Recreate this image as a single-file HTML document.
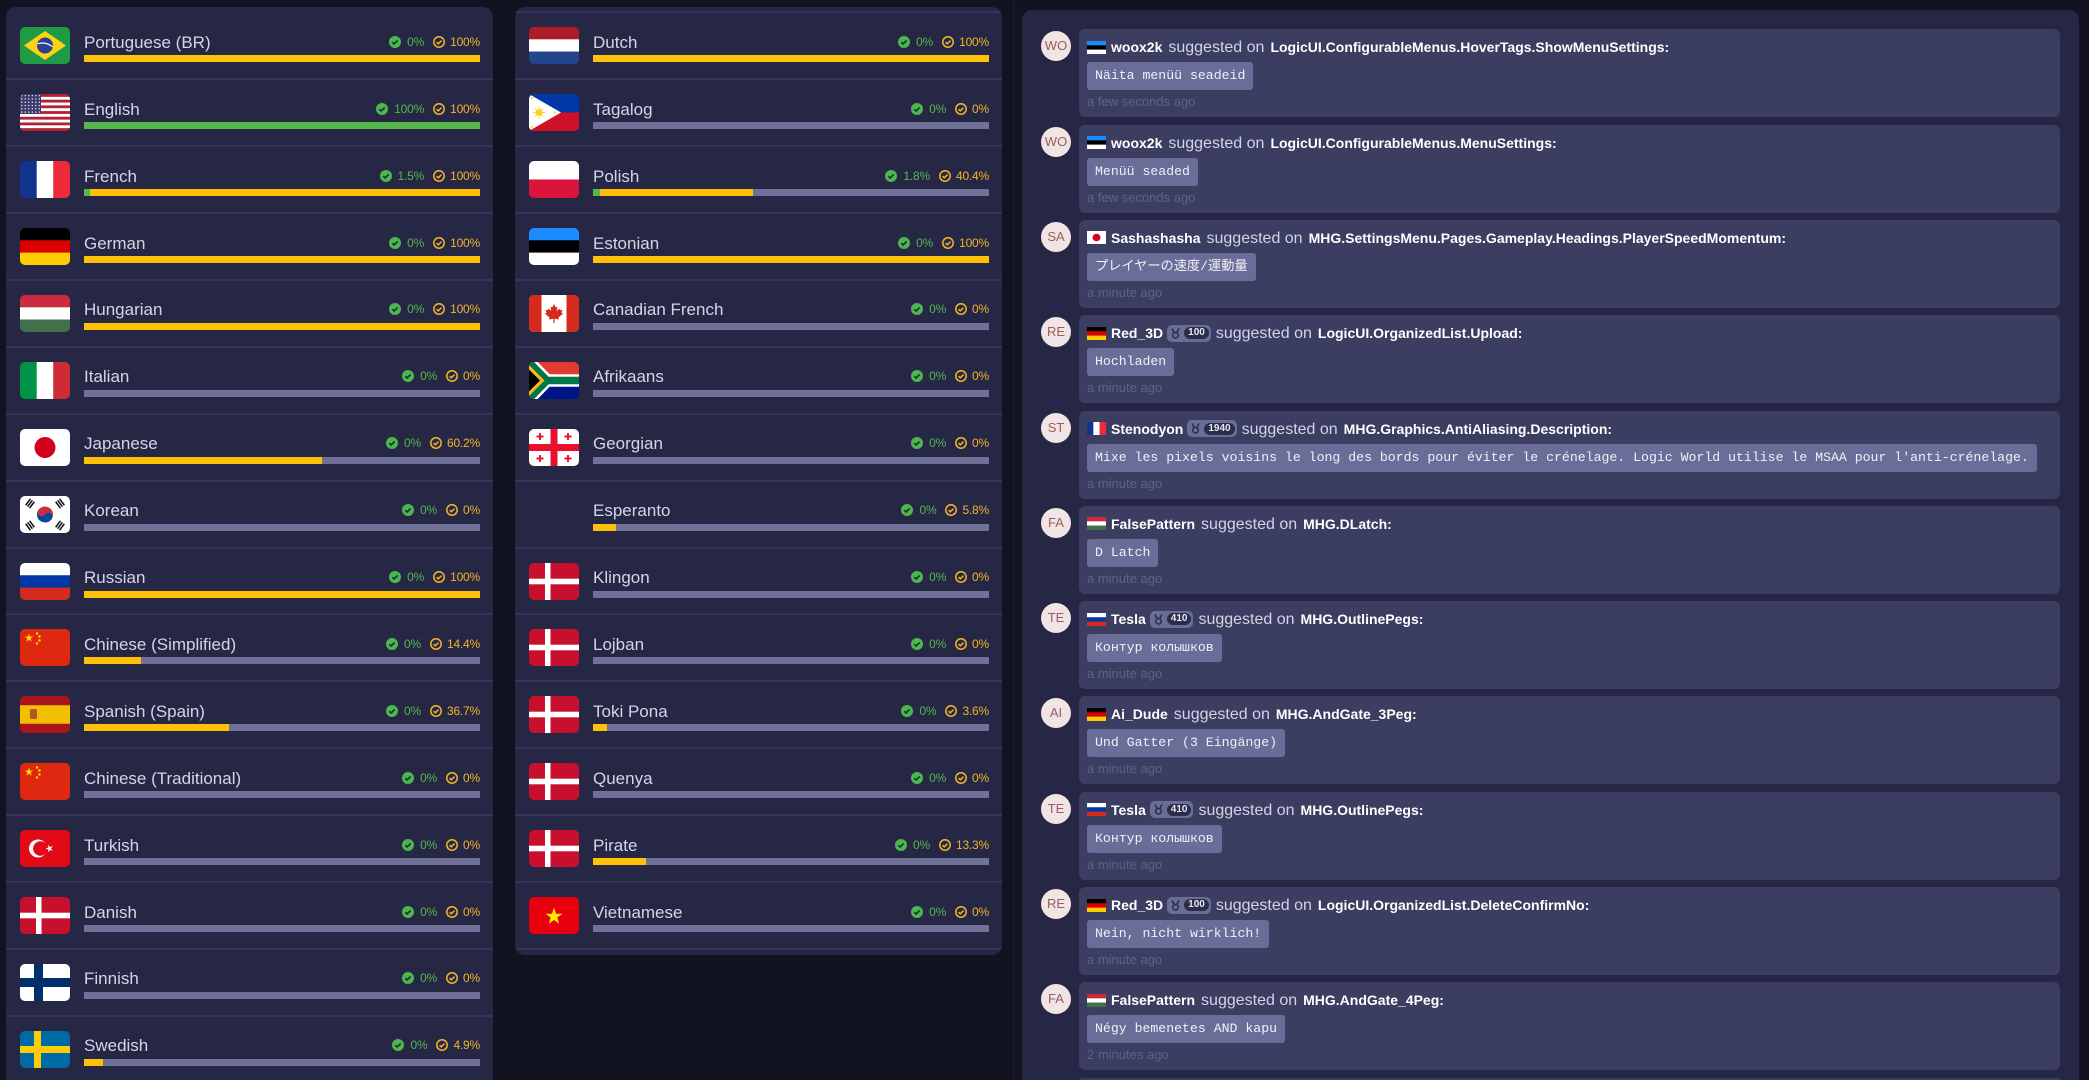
<!DOCTYPE html>
<html style="overflow:hidden;height:1080px"><head><meta charset="utf-8">
<style>
*{box-sizing:border-box}
html,body{margin:0;padding:0;width:2089px;height:1080px;overflow:hidden;background:#121320}
#root{position:relative;width:2089px;height:1080px;overflow:hidden;background:#121320;font-family:"Liberation Sans","Noto Sans CJK JP",sans-serif}
.p{position:absolute;background:#262744;border-radius:10px;overflow:hidden}
#p1{left:6px;top:7px;width:487px;height:1073px;border-bottom-left-radius:0;border-bottom-right-radius:0}
#p2{left:515px;top:7px;width:487px;height:948px}
#p3{left:1022px;top:10px;width:1057px;height:1070px;border-bottom-left-radius:0;border-bottom-right-radius:0}
.vl{position:absolute;left:1013px;top:0;width:2px;height:1080px;background:#181a2b}
.r{position:absolute;left:0;width:100%;height:67px}
.r::before{content:"";position:absolute;left:0;right:0;top:-1px;height:2px;background:#33365a}
.r.nf::before{display:none}
.sp{position:absolute;left:0;right:0;height:2px;background:#33365a}
.fl{position:absolute;left:14px;top:15px;width:50px;height:37px;border-radius:5px;overflow:hidden}
.fl svg{display:block;width:50px;height:37px}
.n{position:absolute;left:78px;top:21.6px;font-size:17px;line-height:17px;color:#d5d5e6;white-space:nowrap}
.st{position:absolute;right:13px;top:22px;height:15px;display:flex;align-items:center;font-size:12px;letter-spacing:-0.2px;white-space:nowrap}
.ic{width:12px;height:12px;margin-right:6px;flex:none}
.ic2{margin-left:9px;margin-right:5px}
.gt{color:#55b74f}
.yt{color:#f2b42a}
.b{position:absolute;left:78px;right:13px;top:43px;height:7px;background:#6f7199;overflow:hidden}
.b i{position:absolute;left:0;top:0;bottom:0;display:block}
.b .y{background:#ffc107}
.b .g{background:#56b84a}
.it{position:absolute;left:1041px;width:1019px;height:88px;overflow:hidden}
.cd{position:absolute;left:38px;top:0;width:981px;height:88px;background:#3b3d61;border-radius:6px}
.av{position:absolute;left:0;top:2px;width:30px;height:30px;border-radius:50%;background:#f0e4e4;color:#9a5d5a;font-size:13px;line-height:30px;text-align:center}
.hd{position:absolute;left:46px;top:8px;height:20px;display:flex;align-items:baseline;white-space:nowrap;line-height:20px}
.cf{width:19px;height:13px;margin-right:5px;flex:none;display:block;align-self:center}
.u{font-weight:bold;font-size:14px;color:#fff}
.s{font-size:16px;color:#d4d4e6;margin:0 6px}
.k{font-weight:bold;font-size:14px;color:#fff}
.bd{margin-left:4px;height:17px;background:#6b6d99;border-radius:5px;display:flex;align-items:center;padding:0 2px 0 3px;align-self:center}
.bd svg{width:11px;height:11px;display:block}
.pl{background:#2b2d4b;color:#e8e8f2;font-size:10px;font-weight:bold;border-radius:6px;height:12px;line-height:12px;padding:0 4px;margin-left:3px}
.bd+.s{margin-left:5px}
.co{position:absolute;left:46px;top:33px;height:28px;line-height:28px;padding:0 8px;background:#6b6d99;border-radius:3px;font-family:"Liberation Mono","Noto Sans CJK JP",monospace;font-size:13.2px;color:#f0f0f8;white-space:nowrap}
.t{position:absolute;left:46px;top:66px;font-size:13px;line-height:14px;color:#5f6189;white-space:nowrap}
</style></head><body>
<div id="root">
<svg width="0" height="0" style="position:absolute">
<defs>
<pattern id="stars" width="3.5" height="3.3" patternUnits="userSpaceOnUse"><circle cx="1.75" cy="1.65" r="0.65" fill="#fff"/></pattern>
</defs>
<symbol id="ig" viewBox="0 0 12 12"><circle cx="6" cy="6" r="6" fill="#4cb84c"/><path d="M3.3 6.2l1.8 1.8 3.6-3.6" stroke="#262744" stroke-width="1.6" fill="none"/></symbol>
<symbol id="iy" viewBox="0 0 12 12"><circle cx="6" cy="6" r="5.2" stroke="#f2b42a" stroke-width="1.5" fill="none"/><path d="M3.6 6.1l1.7 1.7 3.2-3.2" stroke="#f2b42a" stroke-width="1.5" fill="none"/></symbol>
<symbol id="md" viewBox="0 0 11 11"><path d="M2 0.5l2.5 4.5M9 0.5L6.5 5" stroke="#2b2d4b" stroke-width="1.6" fill="none"/><circle cx="5.5" cy="7.3" r="2.8" fill="none" stroke="#2b2d4b" stroke-width="1.5"/></symbol>
<symbol id="f-br" viewBox="0 0 50 37" preserveAspectRatio="none"><rect width="50" height="37" fill="#1f9a45"/><path d="M25 4L46 18.5 25 33 4 18.5z" fill="#fcd116"/><circle cx="25" cy="18.5" r="8" fill="#2c3f93"/><path d="M17.4 16.8q8-2.5 15.3 3" stroke="#fff" stroke-width="1.2" fill="none"/></symbol>
<symbol id="f-us" viewBox="0 0 50 37" preserveAspectRatio="none"><rect width="50" height="37" fill="#fff"/><g fill="#b22234"><rect y="0" width="50" height="2.85"/><rect y="5.69" width="50" height="2.85"/><rect y="11.38" width="50" height="2.85"/><rect y="17.08" width="50" height="2.85"/><rect y="22.77" width="50" height="2.85"/><rect y="28.46" width="50" height="2.85"/><rect y="34.15" width="50" height="2.85"/></g><rect width="21" height="19.9" fill="#3c3b6e"/><rect width="21" height="19.9" fill="url(#stars)"/></symbol>
<symbol id="f-fr" viewBox="0 0 50 37" preserveAspectRatio="none"><rect width="17" height="37" fill="#12348f"/><rect x="16.7" width="16.7" height="37" fill="#fff"/><rect x="33.3" width="16.7" height="37" fill="#ef2b3b"/></symbol>
<symbol id="f-de" viewBox="0 0 50 37" preserveAspectRatio="none"><rect width="50" height="12.4" fill="#000"/><rect y="12.3" width="50" height="12.4" fill="#dd0000"/><rect y="24.6" width="50" height="12.4" fill="#ffce00"/></symbol>
<symbol id="f-hu" viewBox="0 0 50 37" preserveAspectRatio="none"><rect width="50" height="12.4" fill="#cd2a3e"/><rect y="12.3" width="50" height="12.4" fill="#fff"/><rect y="24.6" width="50" height="12.4" fill="#436f4d"/></symbol>
<symbol id="f-it" viewBox="0 0 50 37" preserveAspectRatio="none"><rect width="17" height="37" fill="#009246"/><rect x="16.7" width="16.7" height="37" fill="#fff"/><rect x="33.3" width="16.7" height="37" fill="#ce2b37"/></symbol>
<symbol id="f-jp" viewBox="0 0 50 37" preserveAspectRatio="none"><rect width="50" height="37" fill="#fff"/><circle cx="25" cy="18.5" r="10.5" fill="#d40020"/></symbol>
<symbol id="f-kr" viewBox="0 0 50 37" preserveAspectRatio="none"><rect width="50" height="37" fill="#fff"/><g transform="rotate(33.7 25 18.5)"><path d="M17 18.5a8 8 0 0 1 16 0z" fill="#cd2e3a"/><path d="M17 18.5a8 8 0 0 0 16 0z" fill="#0047a0"/><circle cx="21" cy="18.5" r="4" fill="#cd2e3a"/><circle cx="29" cy="18.5" r="4" fill="#0047a0"/></g><g fill="#111"><g transform="translate(10 7.5) rotate(-53.5)"><rect x="-4" y="-3.2" width="8" height="1.5"/><rect x="-4" y="-0.75" width="8" height="1.5"/><rect x="-4" y="1.7" width="8" height="1.5"/></g><g transform="translate(40 7.5) rotate(53.5)"><rect x="-4" y="-3.2" width="8" height="1.5"/><rect x="-4" y="-0.75" width="8" height="1.5"/><rect x="-4" y="1.7" width="8" height="1.5"/></g><g transform="translate(10 29.5) rotate(53.5)"><rect x="-4" y="-3.2" width="8" height="1.5"/><rect x="-4" y="-0.75" width="8" height="1.5"/><rect x="-4" y="1.7" width="8" height="1.5"/></g><g transform="translate(40 29.5) rotate(-53.5)"><rect x="-4" y="-3.2" width="8" height="1.5"/><rect x="-4" y="-0.75" width="8" height="1.5"/><rect x="-4" y="1.7" width="8" height="1.5"/></g></g></symbol>
<symbol id="f-ru" viewBox="0 0 50 37" preserveAspectRatio="none"><rect width="50" height="12.4" fill="#fff"/><rect y="12.3" width="50" height="12.4" fill="#0039a6"/><rect y="24.6" width="50" height="12.4" fill="#d52b1e"/></symbol>
<symbol id="f-cn" viewBox="0 0 50 37" preserveAspectRatio="none"><rect width="50" height="37" fill="#de2910"/><g fill="#ffde00"><path transform="translate(9 9) scale(4.5)" d="M0-1L.2245-.309.951-.309.363.118.588.809 0 .382-.588.809-.363.118-.951-.309-.2245-.309Z"/><circle cx="17" cy="4.5" r="1.2"/><circle cx="19.5" cy="7.5" r="1.2"/><circle cx="19.5" cy="11.5" r="1.2"/><circle cx="17" cy="14.5" r="1.2"/></g></symbol>
<symbol id="f-es" viewBox="0 0 50 37" preserveAspectRatio="none"><rect width="50" height="37" fill="#aa151b"/><rect y="9.25" width="50" height="18.5" fill="#f1bf00"/><rect x="10" y="13" width="7" height="10" rx="1.5" fill="#b5542c"/></symbol>
<symbol id="f-tr" viewBox="0 0 50 37" preserveAspectRatio="none"><rect width="50" height="37" fill="#e30a17"/><circle cx="18" cy="18.5" r="9" fill="#fff"/><circle cx="20.4" cy="18.5" r="7.3" fill="#e30a17"/><path fill="#fff" transform="translate(29.5 18.5) rotate(-18) scale(4)" d="M0-1L.2245-.309.951-.309.363.118.588.809 0 .382-.588.809-.363.118-.951-.309-.2245-.309Z"/></symbol>
<symbol id="f-dk" viewBox="0 0 50 37" preserveAspectRatio="none"><rect width="50" height="37" fill="#c8102e"/><rect x="16" width="5.5" height="37" fill="#fff"/><rect y="15.7" width="50" height="5.6" fill="#fff"/></symbol>
<symbol id="f-fi" viewBox="0 0 50 37" preserveAspectRatio="none"><rect width="50" height="37" fill="#fff"/><rect x="14" width="9" height="37" fill="#002f6c"/><rect y="14" width="50" height="9" fill="#002f6c"/></symbol>
<symbol id="f-se" viewBox="0 0 50 37" preserveAspectRatio="none"><rect width="50" height="37" fill="#006aa7"/><rect x="14" width="7" height="37" fill="#fecc00"/><rect y="15" width="50" height="7" fill="#fecc00"/></symbol>
<symbol id="f-nl" viewBox="0 0 50 37" preserveAspectRatio="none"><rect width="50" height="12.4" fill="#ae1c28"/><rect y="12.3" width="50" height="12.4" fill="#fff"/><rect y="24.6" width="50" height="12.4" fill="#21468b"/></symbol>
<symbol id="f-ph" viewBox="0 0 50 37" preserveAspectRatio="none"><rect width="50" height="18.5" fill="#0038a8"/><rect y="18.5" width="50" height="18.5" fill="#ce1126"/><path d="M0 0L32 18.5 0 37z" fill="#fff"/><circle cx="10" cy="18.5" r="3.3" fill="#fcd116"/><path d="M10 12.5v12M4 18.5h12M5.8 14.3l8.4 8.4M14.2 14.3l-8.4 8.4" stroke="#fcd116" stroke-width="1"/><g fill="#fcd116"><circle cx="3" cy="4" r="1"/><circle cx="3" cy="33" r="1"/><circle cx="26" cy="18.5" r="1"/></g></symbol>
<symbol id="f-pl" viewBox="0 0 50 37" preserveAspectRatio="none"><rect width="50" height="18.5" fill="#fff"/><rect y="18.5" width="50" height="18.5" fill="#dc143c"/></symbol>
<symbol id="f-ee" viewBox="0 0 50 37" preserveAspectRatio="none"><rect width="50" height="12.4" fill="#1a8cff"/><rect y="12.3" width="50" height="12.4" fill="#000"/><rect y="24.6" width="50" height="12.4" fill="#fff"/></symbol>
<symbol id="f-ca" viewBox="0 0 50 37" preserveAspectRatio="none"><rect width="50" height="37" fill="#fff"/><rect width="12.5" height="37" fill="#d52b1e"/><rect x="37.5" width="12.5" height="37" fill="#d52b1e"/><path fill="#d52b1e" d="M25 9L26.8 12.5 28.5 11.8 27.8 16 30.5 13.5 31.2 15.2 33.5 14.8 32.5 17.8 34 18.6 29.5 22.5 30 24.5 25.6 23.8 25.6 28 24.4 28 24.4 23.8 20 24.5 20.5 22.5 16 18.6 17.5 17.8 16.5 14.8 18.8 15.2 19.5 13.5 22.2 16 21.5 11.8 23.2 12.5Z"/></symbol>
<symbol id="f-za" viewBox="0 0 50 37" preserveAspectRatio="none"><rect width="50" height="18.5" fill="#e03c31"/><rect y="18.5" width="50" height="18.5" fill="#001489"/><path d="M-2 -2L18 18.5 52 18.5M-2 39L18 18.5" stroke="#fff" stroke-width="12.5" fill="none"/><path d="M-2 -2L18 18.5 52 18.5M-2 39L18 18.5" stroke="#007749" stroke-width="7.4" fill="none"/><path d="M0 3L15.5 18.5 0 34z" fill="#ffb81c"/><path d="M0 7.5L11 18.5 0 29.5z" fill="#000"/></symbol>
<symbol id="f-ge" viewBox="0 0 50 37" preserveAspectRatio="none"><rect width="50" height="37" fill="#fff"/><rect x="21.5" width="7" height="37" fill="#e8112d"/><rect y="15" width="50" height="7" fill="#e8112d"/><g stroke="#e8112d" stroke-width="1.9"><path d="M7.5 7.5h7M11 4v7M35.5 7.5h7M39 4v7M7.5 29.5h7M11 26v7M35.5 29.5h7M39 26v7"/></g></symbol>
<symbol id="f-vn" viewBox="0 0 50 37" preserveAspectRatio="none"><rect width="50" height="37" fill="#e8000e"/><path fill="#ffec00" transform="translate(25 19.5) scale(9)" d="M0-1L.2245-.309.951-.309.363.118.588.809 0 .382-.588.809-.363.118-.951-.309-.2245-.309Z"/></symbol>
</svg>

<div class="vl"></div>

<div class="p" id="p1">
<div class="r nf" style="top:5.3px"><div class="fl"><svg><use href="#f-br"/></svg></div><div class="n">Portuguese (BR)</div><div class="st"><svg class="ic"><use href="#ig"/></svg><span class="gt">0%</span><svg class="ic ic2"><use href="#iy"/></svg><span class="yt">100%</span></div><div class="b"><i class="y" style="width:100%"></i></div></div>
<div class="r" style="top:72.2px"><div class="fl"><svg><use href="#f-us"/></svg></div><div class="n">English</div><div class="st"><svg class="ic"><use href="#ig"/></svg><span class="gt">100%</span><svg class="ic ic2"><use href="#iy"/></svg><span class="yt">100%</span></div><div class="b"><i class="y" style="width:100%"></i><i class="g" style="width:100%"></i></div></div>
<div class="r" style="top:139.1px"><div class="fl"><svg><use href="#f-fr"/></svg></div><div class="n">French</div><div class="st"><svg class="ic"><use href="#ig"/></svg><span class="gt">1.5%</span><svg class="ic ic2"><use href="#iy"/></svg><span class="yt">100%</span></div><div class="b"><i class="y" style="width:100%"></i><i class="g" style="width:1.5%"></i></div></div>
<div class="r" style="top:206px"><div class="fl"><svg><use href="#f-de"/></svg></div><div class="n">German</div><div class="st"><svg class="ic"><use href="#ig"/></svg><span class="gt">0%</span><svg class="ic ic2"><use href="#iy"/></svg><span class="yt">100%</span></div><div class="b"><i class="y" style="width:100%"></i></div></div>
<div class="r" style="top:272.9px"><div class="fl"><svg><use href="#f-hu"/></svg></div><div class="n">Hungarian</div><div class="st"><svg class="ic"><use href="#ig"/></svg><span class="gt">0%</span><svg class="ic ic2"><use href="#iy"/></svg><span class="yt">100%</span></div><div class="b"><i class="y" style="width:100%"></i></div></div>
<div class="r" style="top:339.8px"><div class="fl"><svg><use href="#f-it"/></svg></div><div class="n">Italian</div><div class="st"><svg class="ic"><use href="#ig"/></svg><span class="gt">0%</span><svg class="ic ic2"><use href="#iy"/></svg><span class="yt">0%</span></div><div class="b"></div></div>
<div class="r" style="top:406.7px"><div class="fl"><svg><use href="#f-jp"/></svg></div><div class="n">Japanese</div><div class="st"><svg class="ic"><use href="#ig"/></svg><span class="gt">0%</span><svg class="ic ic2"><use href="#iy"/></svg><span class="yt">60.2%</span></div><div class="b"><i class="y" style="width:60.2%"></i></div></div>
<div class="r" style="top:473.6px"><div class="fl"><svg><use href="#f-kr"/></svg></div><div class="n">Korean</div><div class="st"><svg class="ic"><use href="#ig"/></svg><span class="gt">0%</span><svg class="ic ic2"><use href="#iy"/></svg><span class="yt">0%</span></div><div class="b"></div></div>
<div class="r" style="top:540.5px"><div class="fl"><svg><use href="#f-ru"/></svg></div><div class="n">Russian</div><div class="st"><svg class="ic"><use href="#ig"/></svg><span class="gt">0%</span><svg class="ic ic2"><use href="#iy"/></svg><span class="yt">100%</span></div><div class="b"><i class="y" style="width:100%"></i></div></div>
<div class="r" style="top:607.4px"><div class="fl"><svg><use href="#f-cn"/></svg></div><div class="n">Chinese (Simplified)</div><div class="st"><svg class="ic"><use href="#ig"/></svg><span class="gt">0%</span><svg class="ic ic2"><use href="#iy"/></svg><span class="yt">14.4%</span></div><div class="b"><i class="y" style="width:14.4%"></i></div></div>
<div class="r" style="top:674.3px"><div class="fl"><svg><use href="#f-es"/></svg></div><div class="n">Spanish (Spain)</div><div class="st"><svg class="ic"><use href="#ig"/></svg><span class="gt">0%</span><svg class="ic ic2"><use href="#iy"/></svg><span class="yt">36.7%</span></div><div class="b"><i class="y" style="width:36.7%"></i></div></div>
<div class="r" style="top:741.2px"><div class="fl"><svg><use href="#f-cn"/></svg></div><div class="n">Chinese (Traditional)</div><div class="st"><svg class="ic"><use href="#ig"/></svg><span class="gt">0%</span><svg class="ic ic2"><use href="#iy"/></svg><span class="yt">0%</span></div><div class="b"></div></div>
<div class="r" style="top:808.1px"><div class="fl"><svg><use href="#f-tr"/></svg></div><div class="n">Turkish</div><div class="st"><svg class="ic"><use href="#ig"/></svg><span class="gt">0%</span><svg class="ic ic2"><use href="#iy"/></svg><span class="yt">0%</span></div><div class="b"></div></div>
<div class="r" style="top:875px"><div class="fl"><svg><use href="#f-dk"/></svg></div><div class="n">Danish</div><div class="st"><svg class="ic"><use href="#ig"/></svg><span class="gt">0%</span><svg class="ic ic2"><use href="#iy"/></svg><span class="yt">0%</span></div><div class="b"></div></div>
<div class="r" style="top:941.9px"><div class="fl"><svg><use href="#f-fi"/></svg></div><div class="n">Finnish</div><div class="st"><svg class="ic"><use href="#ig"/></svg><span class="gt">0%</span><svg class="ic ic2"><use href="#iy"/></svg><span class="yt">0%</span></div><div class="b"></div></div>
<div class="r" style="top:1008.8px;height:64px"><div class="fl"><svg><use href="#f-se"/></svg></div><div class="n">Swedish</div><div class="st"><svg class="ic"><use href="#ig"/></svg><span class="gt">0%</span><svg class="ic ic2"><use href="#iy"/></svg><span class="yt">4.9%</span></div><div class="b"><i class="y" style="width:4.9%"></i></div></div>
</div>

<div class="p" id="p2">
<div class="r" style="top:5.3px"><div class="fl"><svg><use href="#f-nl"/></svg></div><div class="n">Dutch</div><div class="st"><svg class="ic"><use href="#ig"/></svg><span class="gt">0%</span><svg class="ic ic2"><use href="#iy"/></svg><span class="yt">100%</span></div><div class="b"><i class="y" style="width:100%"></i></div></div>
<div class="r" style="top:72.2px"><div class="fl"><svg><use href="#f-ph"/></svg></div><div class="n">Tagalog</div><div class="st"><svg class="ic"><use href="#ig"/></svg><span class="gt">0%</span><svg class="ic ic2"><use href="#iy"/></svg><span class="yt">0%</span></div><div class="b"></div></div>
<div class="r" style="top:139.1px"><div class="fl"><svg><use href="#f-pl"/></svg></div><div class="n">Polish</div><div class="st"><svg class="ic"><use href="#ig"/></svg><span class="gt">1.8%</span><svg class="ic ic2"><use href="#iy"/></svg><span class="yt">40.4%</span></div><div class="b"><i class="y" style="width:40.4%"></i><i class="g" style="width:1.8%"></i></div></div>
<div class="r" style="top:206px"><div class="fl"><svg><use href="#f-ee"/></svg></div><div class="n">Estonian</div><div class="st"><svg class="ic"><use href="#ig"/></svg><span class="gt">0%</span><svg class="ic ic2"><use href="#iy"/></svg><span class="yt">100%</span></div><div class="b"><i class="y" style="width:100%"></i></div></div>
<div class="r" style="top:272.9px"><div class="fl"><svg><use href="#f-ca"/></svg></div><div class="n">Canadian French</div><div class="st"><svg class="ic"><use href="#ig"/></svg><span class="gt">0%</span><svg class="ic ic2"><use href="#iy"/></svg><span class="yt">0%</span></div><div class="b"></div></div>
<div class="r" style="top:339.8px"><div class="fl"><svg><use href="#f-za"/></svg></div><div class="n">Afrikaans</div><div class="st"><svg class="ic"><use href="#ig"/></svg><span class="gt">0%</span><svg class="ic ic2"><use href="#iy"/></svg><span class="yt">0%</span></div><div class="b"></div></div>
<div class="r" style="top:406.7px"><div class="fl"><svg><use href="#f-ge"/></svg></div><div class="n">Georgian</div><div class="st"><svg class="ic"><use href="#ig"/></svg><span class="gt">0%</span><svg class="ic ic2"><use href="#iy"/></svg><span class="yt">0%</span></div><div class="b"></div></div>
<div class="r" style="top:473.6px"><div class="n">Esperanto</div><div class="st"><svg class="ic"><use href="#ig"/></svg><span class="gt">0%</span><svg class="ic ic2"><use href="#iy"/></svg><span class="yt">5.8%</span></div><div class="b"><i class="y" style="width:5.8%"></i></div></div>
<div class="r" style="top:540.5px"><div class="fl"><svg><use href="#f-dk"/></svg></div><div class="n">Klingon</div><div class="st"><svg class="ic"><use href="#ig"/></svg><span class="gt">0%</span><svg class="ic ic2"><use href="#iy"/></svg><span class="yt">0%</span></div><div class="b"></div></div>
<div class="r" style="top:607.4px"><div class="fl"><svg><use href="#f-dk"/></svg></div><div class="n">Lojban</div><div class="st"><svg class="ic"><use href="#ig"/></svg><span class="gt">0%</span><svg class="ic ic2"><use href="#iy"/></svg><span class="yt">0%</span></div><div class="b"></div></div>
<div class="r" style="top:674.3px"><div class="fl"><svg><use href="#f-dk"/></svg></div><div class="n">Toki Pona</div><div class="st"><svg class="ic"><use href="#ig"/></svg><span class="gt">0%</span><svg class="ic ic2"><use href="#iy"/></svg><span class="yt">3.6%</span></div><div class="b"><i class="y" style="width:3.6%"></i></div></div>
<div class="r" style="top:741.2px"><div class="fl"><svg><use href="#f-dk"/></svg></div><div class="n">Quenya</div><div class="st"><svg class="ic"><use href="#ig"/></svg><span class="gt">0%</span><svg class="ic ic2"><use href="#iy"/></svg><span class="yt">0%</span></div><div class="b"></div></div>
<div class="r" style="top:808.1px"><div class="fl"><svg><use href="#f-dk"/></svg></div><div class="n">Pirate</div><div class="st"><svg class="ic"><use href="#ig"/></svg><span class="gt">0%</span><svg class="ic ic2"><use href="#iy"/></svg><span class="yt">13.3%</span></div><div class="b"><i class="y" style="width:13.3%"></i></div></div>
<div class="r" style="top:875px"><div class="fl"><svg><use href="#f-vn"/></svg></div><div class="n">Vietnamese</div><div class="st"><svg class="ic"><use href="#ig"/></svg><span class="gt">0%</span><svg class="ic ic2"><use href="#iy"/></svg><span class="yt">0%</span></div><div class="b"></div></div>
<div class="sp" style="top:940.9px"></div>
</div>

<div class="p" id="p3"></div>

<div class="it" style="top:29.3px"><div class="av">WO</div><div class="cd"></div><div class="hd"><svg class="cf"><use href="#f-ee"/></svg><span class="u">woox2k</span><span class="s">suggested on</span><span class="k">LogicUI.ConfigurableMenus.HoverTags.ShowMenuSettings:</span></div><div class="co">Näita menüü seadeid</div><div class="t">a few seconds ago</div></div>

<div class="it" style="top:124.6px"><div class="av">WO</div><div class="cd"></div><div class="hd"><svg class="cf"><use href="#f-ee"/></svg><span class="u">woox2k</span><span class="s">suggested on</span><span class="k">LogicUI.ConfigurableMenus.MenuSettings:</span></div><div class="co">Menüü seaded</div><div class="t">a few seconds ago</div></div>

<div class="it" style="top:219.9px"><div class="av">SA</div><div class="cd"></div><div class="hd"><svg class="cf"><use href="#f-jp"/></svg><span class="u">Sashashasha</span><span class="s">suggested on</span><span class="k">MHG.SettingsMenu.Pages.Gameplay.Headings.PlayerSpeedMomentum:</span></div><div class="co">プレイヤーの速度/運動量</div><div class="t">a minute ago</div></div>

<div class="it" style="top:315.2px"><div class="av">RE</div><div class="cd"></div><div class="hd"><svg class="cf"><use href="#f-de"/></svg><span class="u">Red_3D</span><span class="bd"><svg><use href="#md"/></svg><span class="pl">100</span></span><span class="s">suggested on</span><span class="k">LogicUI.OrganizedList.Upload:</span></div><div class="co">Hochladen</div><div class="t">a minute ago</div></div>

<div class="it" style="top:410.5px"><div class="av">ST</div><div class="cd"></div><div class="hd"><svg class="cf"><use href="#f-fr"/></svg><span class="u">Stenodyon</span><span class="bd"><svg><use href="#md"/></svg><span class="pl">1940</span></span><span class="s">suggested on</span><span class="k">MHG.Graphics.AntiAliasing.Description:</span></div><div class="co">Mixe les pixels voisins le long des bords pour éviter le crénelage. Logic World utilise le MSAA pour l'anti-crénelage.</div><div class="t">a minute ago</div></div>

<div class="it" style="top:505.8px"><div class="av">FA</div><div class="cd"></div><div class="hd"><svg class="cf"><use href="#f-hu"/></svg><span class="u">FalsePattern</span><span class="s">suggested on</span><span class="k">MHG.DLatch:</span></div><div class="co">D Latch</div><div class="t">a minute ago</div></div>

<div class="it" style="top:601.1px"><div class="av">TE</div><div class="cd"></div><div class="hd"><svg class="cf"><use href="#f-ru"/></svg><span class="u">Tesla</span><span class="bd"><svg><use href="#md"/></svg><span class="pl">410</span></span><span class="s">suggested on</span><span class="k">MHG.OutlinePegs:</span></div><div class="co">Контур колышков</div><div class="t">a minute ago</div></div>

<div class="it" style="top:696.4px"><div class="av">AI</div><div class="cd"></div><div class="hd"><svg class="cf"><use href="#f-de"/></svg><span class="u">Ai_Dude</span><span class="s">suggested on</span><span class="k">MHG.AndGate_3Peg:</span></div><div class="co">Und Gatter (3 Eingänge)</div><div class="t">a minute ago</div></div>

<div class="it" style="top:791.7px"><div class="av">TE</div><div class="cd"></div><div class="hd"><svg class="cf"><use href="#f-ru"/></svg><span class="u">Tesla</span><span class="bd"><svg><use href="#md"/></svg><span class="pl">410</span></span><span class="s">suggested on</span><span class="k">MHG.OutlinePegs:</span></div><div class="co">Контур колышков</div><div class="t">a minute ago</div></div>

<div class="it" style="top:887px"><div class="av">RE</div><div class="cd"></div><div class="hd"><svg class="cf"><use href="#f-de"/></svg><span class="u">Red_3D</span><span class="bd"><svg><use href="#md"/></svg><span class="pl">100</span></span><span class="s">suggested on</span><span class="k">LogicUI.OrganizedList.DeleteConfirmNo:</span></div><div class="co">Nein, nicht wirklich!</div><div class="t">a minute ago</div></div>

<div class="it" style="top:982.3px;height:88px"><div class="av">FA</div><div class="cd"></div><div class="hd"><svg class="cf"><use href="#f-hu"/></svg><span class="u">FalsePattern</span><span class="s">suggested on</span><span class="k">MHG.AndGate_4Peg:</span></div><div class="co">Négy bemenetes AND kapu</div><div class="t">2 minutes ago</div></div>

<div class="it" style="top:1077.6px;height:2.4px"><div class="cd" style="height:2.4px;border-radius:6px 6px 0 0"></div></div>

</div>
</body></html>
